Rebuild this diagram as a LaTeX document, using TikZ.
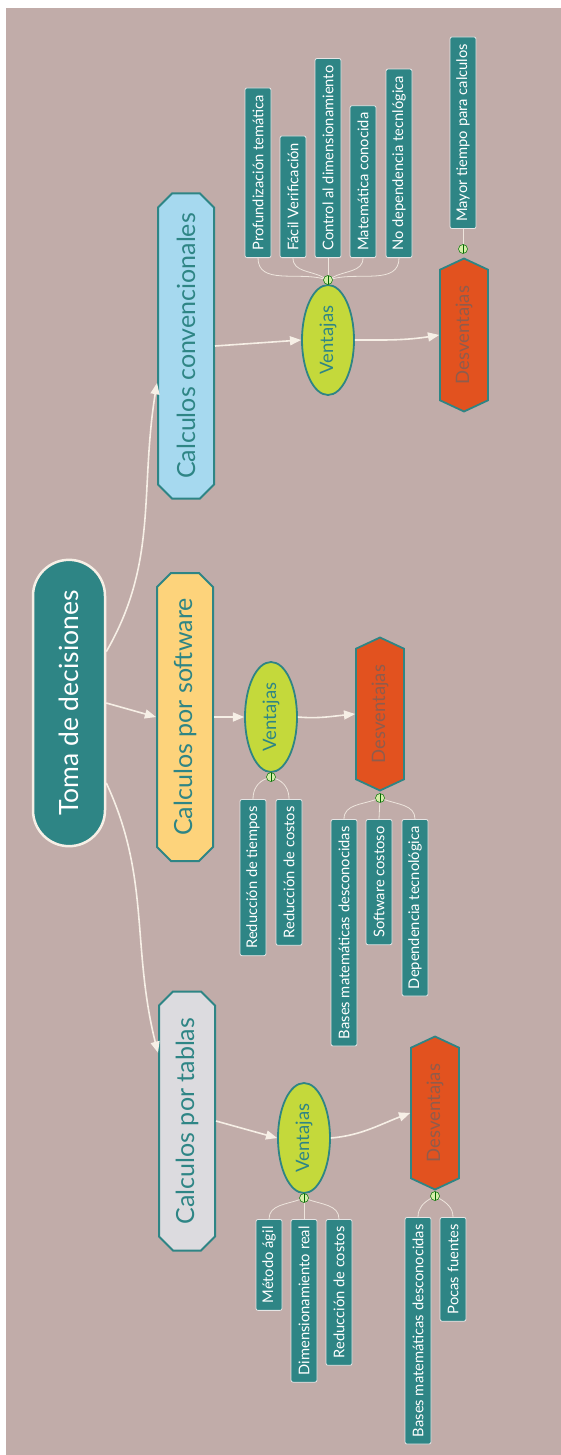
\documentclass[tikz,border=0pt]{standalone}
\usepackage{fontspec}
\setmainfont{Lato}
\usepackage{tikz}
\usetikzlibrary{arrows,shapes.misc,shapes.geometric,shapes.symbols}

\definecolor{fondo}{HTML}{C1ACA9}
\definecolor{verdeazul}{HTML}{2E8585}
\definecolor{crema}{HTML}{F6EFE6}
\definecolor{celeste}{HTML}{A6D9EF}
\definecolor{amarillo}{HTML}{FDD37B}
\definecolor{gris}{HTML}{DCDBDF}
\definecolor{lima}{HTML}{C4D93B}
\definecolor{naranja}{HTML}{E2521F}
\definecolor{marron}{HTML}{8F5C4C}
\definecolor{puntoverde}{HTML}{D5EEA8}

\begin{document}
\begin{tikzpicture}[x=1pt,y=-1pt,>=triangle 45,
	raiz/.style={rounded rectangle,rotate=90,fill=verdeazul,draw=crema,line width=2.5pt,text=white,font=\fontsize{26.5}{30}\selectfont,minimum width=293pt,minimum height=72pt},
	rama/.style={chamfered rectangle,chamfered rectangle xsep=7pt,chamfered rectangle ysep=7pt,rotate=90,draw=verdeazul,line width=2pt,text=verdeazul,font=\fontsize{25}{28}\selectfont,minimum height=56pt,inner sep=2pt},
	ventaja/.style={ellipse,rotate=90,fill=lima,draw=verdeazul,line width=1.8pt,text=verdeazul,font=\fontsize{18.5}{21}\selectfont,minimum width=110pt,minimum height=52pt,inner sep=0pt},
	desventaja/.style={signal,signal to=east and west,signal pointer angle=130,rotate=90,fill=naranja,draw=verdeazul,line width=1.8pt,text=marron,font=\fontsize{18.5}{21}\selectfont,minimum width=153pt,minimum height=48pt,inner sep=0pt},
	hoja/.style={rectangle,rounded corners=2pt,rotate=90,fill=verdeazul,draw=gray!20,line width=0.8pt,text=white,font=\fontsize{14.7}{17}\selectfont,minimum height=26pt,inner xsep=7pt},
	punto/.style={circle,fill=puntoverde,draw=green!45!black,line width=0.5pt,inner sep=0pt,minimum size=9pt,path picture={\draw[green!40!black,line width=0.6pt] (path picture bounding box.north) -- (path picture bounding box.south);}},
	flecha/.style={->,draw=crema,line width=1.6pt},
	linea/.style={draw=crema!85!fondo,line width=0.8pt}]
	\useasboundingbox (0,0) rectangle (561,1455);
	\fill [fondo] (6,8) rectangle (561,1455);

	% nodo central y ramas
	\node [raiz] (raiz) at (69,703) {Toma de decisiones};
	\node [rama,fill=celeste,minimum width=305pt] (cc) at (186,346) {Calculos convencionales};
	\node [rama,fill=amarillo,minimum width=288pt] (cs) at (185,717) {Calculos por software};
	\node [rama,fill=gris,minimum width=259pt] (ct) at (187,1121) {Calculos por tablas};
	\draw [flecha] (raiz.-36) to [out=60,in=-100] (cc.142);
	\draw [flecha] (raiz.south) -- (cs.north);
	\draw [flecha] (raiz.-155) to [out=-65,in=105] (ct.23);

	% convencionales
	\node [ventaja] (vc) at (328,340) {Ventajas};
	\node [desventaja] (dc) at (464,335) {Desventajas};
	\draw [flecha] (cc.south) -- (vc.north);
	\draw [flecha] (vc.south) to [out=0,in=190] (dc.north);
	\node [punto] (pvc) at (328,280) {};
	\node [punto] (pdc) at (463,249) {};
	\node [hoja,anchor=west] (vc1) at (258,258) {Profundización temática};
	\node [hoja,anchor=west] (vc2) at (293,258) {Fácil Verificación};
	\node [hoja,anchor=west] (vc3) at (328,258) {Control al dimensionamiento};
	\node [hoja,anchor=west] (vc4) at (363,258) {Matemática conocida};
	\node [hoja,anchor=west] (vc5) at (399,258) {No dependencia tecnlógica};
	\node [hoja,anchor=west] (dc1) at (463,229) {Mayor tiempo para calculos};
	\draw [linea] (pvc) to [out=165,in=-90] (vc1.west);
	\draw [linea] (pvc) to [out=150,in=-90] (vc2.west);
	\draw [linea] (pvc) -- (vc3.west);
	\draw [linea] (pvc) to [out=30,in=-90] (vc4.west);
	\draw [linea] (pvc) to [out=15,in=-90] (vc5.west);
	\draw [linea] (pdc) -- (dc1.west);

	% software
	\node [ventaja] (vs) at (271,717) {Ventajas};
	\node [desventaja] (ds) at (380,714) {Desventajas};
	\draw [flecha] (cs.south) -- (vs.north);
	\draw [flecha] (vs.south) to [out=-5,in=185] (ds.north);
	\node [punto] (pvs) at (271,777) {};
	\node [punto] (pds) at (380,798) {};
	\node [hoja,anchor=east] (vs1) at (253,799) {Reducción de tiempos};
	\node [hoja,anchor=east] (vs2) at (289,799) {Reducción de costos};
	\node [hoja,anchor=east] (ds1) at (344,819) {Bases matemáticas desconocidas};
	\node [hoja,anchor=east] (ds2) at (379,819) {Software costoso};
	\node [hoja,anchor=east] (ds3) at (415,819) {Dependencia tecnológica};
	\draw [linea] (pvs) to [out=-160,in=90] (vs1.east);
	\draw [linea] (pvs) to [out=-20,in=90] (vs2.east);
	\draw [linea] (pds) to [out=-160,in=90] (ds1.east);
	\draw [linea] (pds) -- (ds2.east);
	\draw [linea] (pds) to [out=-20,in=90] (ds3.east);

	% tablas
	\node [ventaja] (vt) at (304,1138) {Ventajas};
	\node [desventaja] (dt) at (435,1113) {Desventajas};
	\draw [flecha] (ct.south) -- (vt.north);
	\draw [flecha] (vt.south) to [out=5,in=200] (dt.north);
	\node [punto] (pvt) at (304,1198) {};
	\node [punto] (pdt) at (435,1196) {};
	\node [hoja,anchor=east] (vt1) at (269,1219) {Método ágil};
	\node [hoja,anchor=east] (vt2) at (304,1219) {Dimensionamiento real};
	\node [hoja,anchor=east] (vt3) at (339,1219) {Reducción de costos};
	\node [hoja,anchor=east] (dt1) at (418,1217) {Bases matemáticas desconocidas};
	\node [hoja,anchor=east] (dt2) at (453,1217) {Pocas fuentes};
	\draw [linea] (pvt) to [out=-160,in=90] (vt1.east);
	\draw [linea] (pvt) -- (vt2.east);
	\draw [linea] (pvt) to [out=-20,in=90] (vt3.east);
	\draw [linea] (pdt) to [out=-150,in=90] (dt1.east);
	\draw [linea] (pdt) to [out=-30,in=90] (dt2.east);
\end{tikzpicture}
\end{document}
